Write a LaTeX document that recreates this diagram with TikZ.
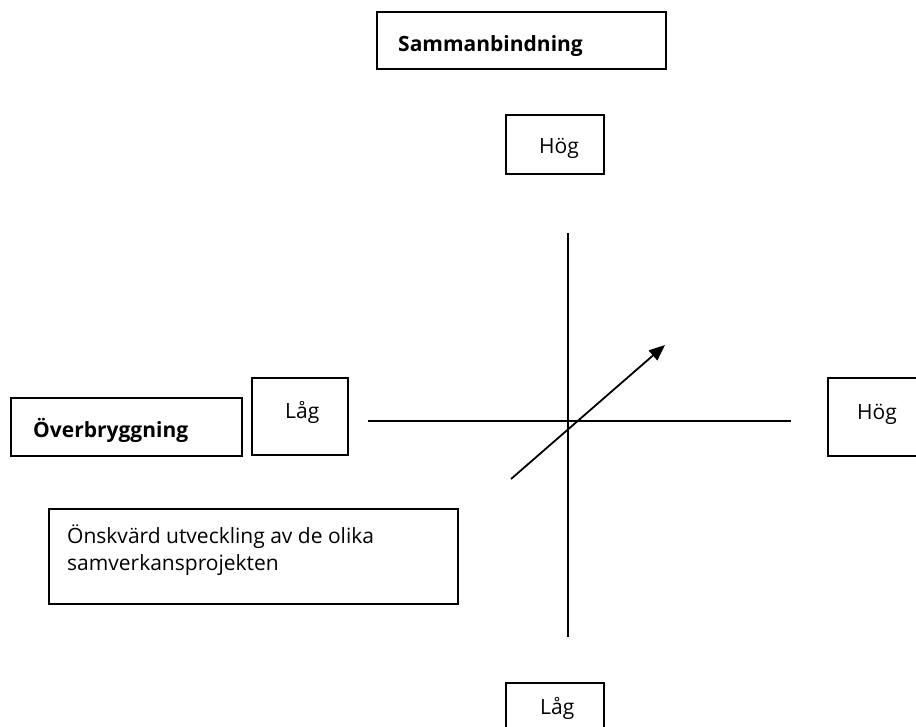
\documentclass[tikz,border=0pt]{standalone}
\usepackage{fontspec}
\setmainfont{Open Sans}
\usetikzlibrary{arrows.meta}
\begin{document}
\begin{tikzpicture}[x=1pt,y=-1pt,
  box/.style={draw, line width=1.6pt, inner sep=0pt},
  txt/.style={anchor=base west, inner sep=0pt, font=\fontsize{21}{27}\selectfont},
  btxt/.style={txt, font=\fontsize{21}{27}\selectfont\bfseries},
  axis/.style={line width=1.6pt},
  trend/.style={line width=1.8pt, -{Triangle[length=16pt,width=13pt]}}]
\useasboundingbox[clip] (0,0) rectangle (916,726);
\fill[white] (0,0) rectangle (916,726);

% boxes and their labels
\draw[box] (377,12) rectangle (666,69);
\node[btxt] (samman) at (398,51) {Sammanbindning};

\draw[box] (506,115) rectangle (604,174);
\node[txt] (hogtop) at (539,153) {Hög};

\draw[box] (11,398) rectangle (242,456);
\node[btxt] (over) at (33,437) {Överbryggning};

\draw[box] (252,378) rectangle (348,455);
\node[txt] (lagleft) at (285,418) {Låg};

\draw[box] (828,378) rectangle (920,456);
\node[txt] (hogright) at (857,419) {Hög};

\draw[box] (506,683) rectangle (604,740);
\node[txt] (lagbottom) at (540,714) {Låg};

\draw[box] (49,509) rectangle (458,604);
\node[txt, align=left, anchor=north west] (onskvard) at (67,525)
  {Önskvärd utveckling av de olika\\samverkansprojekten};

% axes
\coordinate (vtop) at (568,233);
\coordinate (vbot) at (568,637);
\coordinate (hl) at (368,421);
\coordinate (hr) at (791,421);
\draw[axis] (vtop) -- (vbot);
\draw[axis] (hl) -- (hr);

% development arrow
\coordinate (astart) at (511,479);
\coordinate (aend) at (665,345);
\draw[trend] (astart) -- (aend);
\end{tikzpicture}
\end{document}
